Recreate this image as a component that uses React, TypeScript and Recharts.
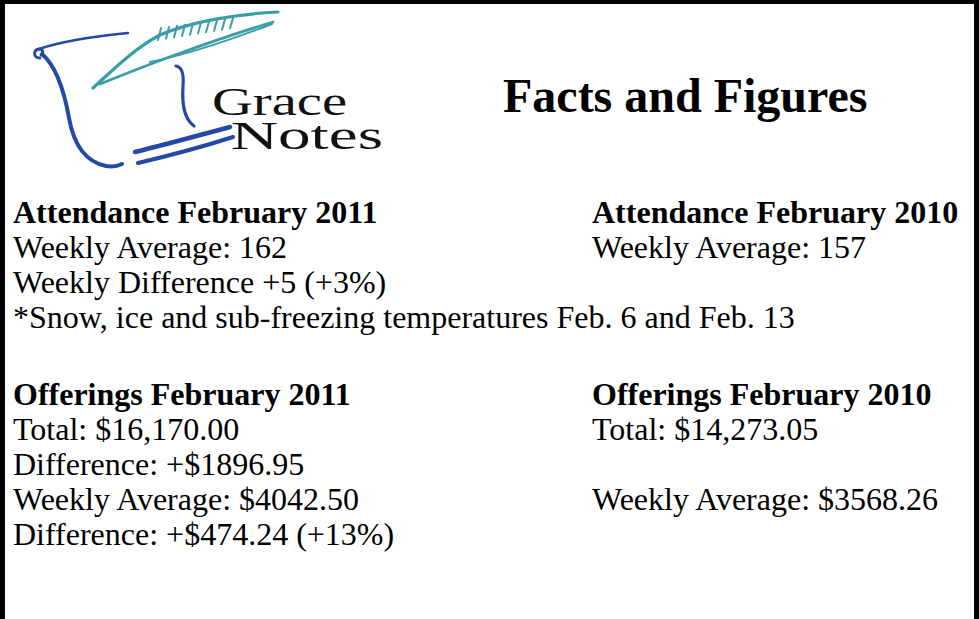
import React from "react";
import { ComposedChart, Customized } from "recharts";

const W = 979;
const H = 619;

const logoWords = ["Grace", "Notes"];
const pageTitle = "Facts and Figures";

const attendanceHeads = ["Attendance February 2011", "Attendance February 2010"];
const attendanceLeft = [
  "Weekly Average: 162",
  "Weekly Difference +5 (+3%)",
  "*Snow, ice and sub-freezing temperatures Feb. 6 and Feb. 13",
];
const attendanceRight = ["Weekly Average: 157"];

const offeringHeads = ["Offerings February 2011", "Offerings February 2010"];
const offeringLeft = [
  "Total: $16,170.00",
  "Difference: +$1896.95",
  "Weekly Average: $4042.50",
  "Difference: +$474.24 (+13%)",
];
const offeringRight = ["Total: $14,273.05", "", "Weekly Average: $3568.26"];

const chartData = [{ k: 0 }];

const SERIF = "'Liberation Serif', 'Times New Roman', serif";
const BLUE = "#2448a6";
const TEAL = "#3a9ea6";

const LEFT_X = 13;
const RIGHT_X = 592;
const LINE = 35;
const FS = 32;

function Block({ x, y, head, lines }: { x: number; y: number; head: string; lines: string[] }) {
  return (
    <g>
      <text x={x} y={y} fontFamily={SERIF} fontSize={FS} fontWeight="bold" fill="#000">
        {head}
      </text>
      {lines.map((l, i) =>
        l ? (
          <text key={i} x={x} y={y + LINE * (i + 1)} fontFamily={SERIF} fontSize={FS} fill="#000">
            {l}
          </text>
        ) : null
      )}
    </g>
  );
}

function Logo() {
  return (
    <g fill="none" strokeLinecap="round">
      {/* feather */}
      <path d="M93,88 C115,68 135,48 160,35 C190,22 235,14 278,12" stroke={TEAL} strokeWidth={3.2} />
      <path d="M100,84 C130,72 150,64 175,55 C205,44 240,32 273,22" stroke={TEAL} strokeWidth={2.8} />
      <path d="M150,62 C185,55 225,42 272,24" stroke={TEAL} strokeWidth={2} />
      {[158, 166, 174, 182, 190, 198, 206, 214, 222, 230].map((bx, i) => (
        <path key={i} d={`M${bx},${40 - i * 1.3} L${bx + 3},${28 - i * 1.1}`} stroke={TEAL} strokeWidth={2} />
      ))}
      {/* scroll */}
      <path d="M40,58 C33,58 33,50 39,49 C43,49 44,53 41,55" stroke={BLUE} strokeWidth={2.8} />
      <path d="M39,49 C65,40 98,36 128,33" stroke={BLUE} strokeWidth={2.5} />
      <path d="M42,54 C56,66 64,90 69,118 C74,146 86,162 106,166 C112,167 118,166 122,164" stroke={BLUE} strokeWidth={4} />
      <path d="M176,66 C182,67 184,74 183,86 C182,102 183,118 194,126" stroke={BLUE} strokeWidth={3.2} />
      <path d="M135,152 C168,144 200,135 230,127" stroke={BLUE} strokeWidth={4.5} />
      <path d="M138,163 C172,155 205,146 233,137" stroke={BLUE} strokeWidth={4} />
      <text fontFamily={SERIF} fontSize={40} fill="#111">
        <tspan x={212} y={115} textLength={135} lengthAdjust="spacingAndGlyphs">
          {logoWords[0]}
        </tspan>
        <tspan x={231} y={149} textLength={152} lengthAdjust="spacingAndGlyphs">
          {logoWords[1]}
        </tspan>
      </text>
    </g>
  );
}

function Page() {
  return (
    <g>
      <rect x={0} y={0} width={W} height={H} fill="#fff" />
      <rect x={0} y={0} width={5} height={H} fill="#000" />
      <rect x={0} y={0} width={W} height={4} fill="#000" />
      <rect x={W - 5} y={0} width={5} height={H} fill="#000" />
      <Logo />
      <text x={503} y={112} fontFamily={SERIF} fontSize={48} fontWeight="bold" fill="#000">
        {pageTitle}
      </text>
      <Block x={LEFT_X} y={223} head={attendanceHeads[0]} lines={attendanceLeft} />
      <Block x={RIGHT_X} y={223} head={attendanceHeads[1]} lines={attendanceRight} />
      <Block x={LEFT_X} y={405} head={offeringHeads[0]} lines={offeringLeft} />
      <Block x={RIGHT_X} y={405} head={offeringHeads[1]} lines={offeringRight} />
    </g>
  );
}

export default function App() {
  return (
    <div style={{ position: "absolute", left: 0, top: 0, width: W, height: H }}>
      <ComposedChart width={W} height={H} data={chartData} margin={{ top: 0, right: 0, bottom: 0, left: 0 }}>
        <Customized component={<Page />} />
      </ComposedChart>
    </div>
  );
}
